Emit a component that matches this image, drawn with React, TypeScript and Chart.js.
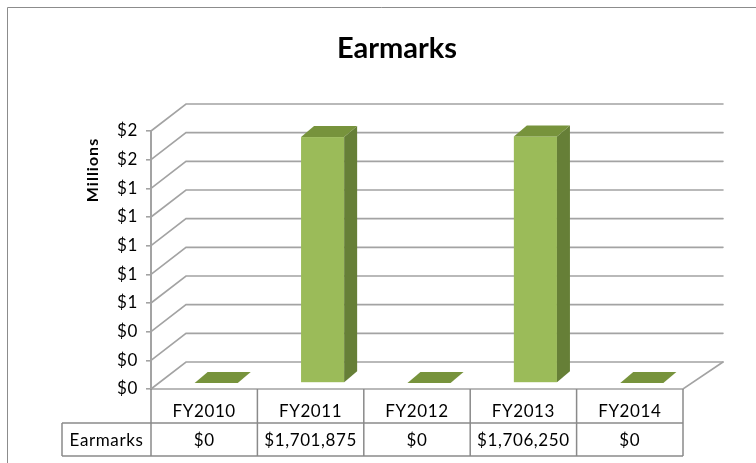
import React, { useEffect, useRef } from 'react';
import { Chart, registerables } from 'chart.js';

Chart.register(...registerables);

const title = 'Earmarks';
const axisTitle = 'Millions';
const seriesName = 'Earmarks';
const categories = ['FY2010', 'FY2011', 'FY2012', 'FY2013', 'FY2014'];
const earmarks = [0, 1701875, 0, 1706250, 0];
const yMin = 0;
const yMax = 1.8;
const yStep = 0.2;

const FONT = 'Lato, "Open Sans", sans-serif';
const FRONT = '#9BBB59';
const SIDE = '#667F37';
const TOP = '#77933C';
const GRID = '#a3a3a3';
const TABLE_LINE = '#8a8a8a';

// 3D geometry (styling offsets)
const WALL_DX = 35;
const WALL_DY = -27;
const BAR_DX = 12;
const BAR_DY_TOP = -8;
const BAR_DY_BASE = -6;
const DEPTH_DX = 13;
const DEPTH_DY = -11;

const fmtMoney = (v: number) => '$' + Math.round(v).toLocaleString('en-US');

const excel3d = {
  id: 'excel3d',
  beforeDraw(chart: any) {
    const ctx = chart.ctx;
    ctx.save();
    ctx.fillStyle = '#ffffff';
    ctx.fillRect(0, 0, chart.width, chart.height);
    ctx.strokeStyle = '#8c8c8c';
    ctx.lineWidth = 1;
    ctx.beginPath();
    ctx.moveTo(7.5, chart.height);
    ctx.lineTo(7.5, 7.5);
    ctx.lineTo(chart.width, 7.5);
    ctx.stroke();
    ctx.restore();
    (ctx as any).letterSpacing = '0.6px';
  },
  beforeDatasetsDraw(chart: any) {
    const ctx = chart.ctx;
    const ys = chart.scales.y;
    const { left, right, bottom } = chart.chartArea;
    ctx.save();
    (ctx as any).letterSpacing = '0px';
    ctx.strokeStyle = GRID;
    ctx.lineWidth = 1.6;
    ctx.lineCap = 'round';
    ys.ticks.forEach((t: any) => {
      const y = ys.getPixelForValue(t.value);
      ctx.beginPath();
      ctx.moveTo(left, y);
      ctx.lineTo(left + WALL_DX, y + WALL_DY);
      ctx.lineTo(right + WALL_DX + 5, y + WALL_DY);
      ctx.stroke();
    });
    // floor right edge and front edge
    ctx.beginPath();
    ctx.moveTo(right + WALL_DX + 5, bottom + WALL_DY);
    ctx.lineTo(right, bottom);
    ctx.lineTo(left, bottom);
    ctx.stroke();
    ctx.restore();
  },
  afterDatasetsDraw(chart: any) {
    const ctx = chart.ctx;
    const meta = chart.getDatasetMeta(0);
    ctx.save();
    meta.data.forEach((el: any, i: number) => {
      const p = el.getProps(['x', 'y', 'base', 'width'], true);
      const x0 = p.x - p.width / 2 + BAR_DX;
      const x1 = p.x + p.width / 2 + BAR_DX;
      const isZero = chart.data.datasets[0].data[i] === 0;
      const yb = p.base + BAR_DY_BASE;
      const yt = isZero ? yb : p.y + BAR_DY_TOP;
      if (!isZero) {
        ctx.fillStyle = FRONT;
        ctx.fillRect(x0, yt, x1 - x0, yb - yt);
        ctx.fillStyle = SIDE;
        ctx.beginPath();
        ctx.moveTo(x1, yt);
        ctx.lineTo(x1 + DEPTH_DX, yt + DEPTH_DY);
        ctx.lineTo(x1 + DEPTH_DX, yb + DEPTH_DY);
        ctx.lineTo(x1, yb);
        ctx.closePath();
        ctx.fill();
      }
      ctx.fillStyle = TOP;
      ctx.beginPath();
      ctx.moveTo(x0, yt);
      ctx.lineTo(x0 + DEPTH_DX, yt + DEPTH_DY);
      ctx.lineTo(x1 + DEPTH_DX, yt + DEPTH_DY);
      ctx.lineTo(x1, yt);
      ctx.closePath();
      ctx.fill();
    });
    ctx.restore();
  },
  afterDraw(chart: any) {
    const ctx = chart.ctx;
    const xs = chart.scales.x;
    const { left, right, bottom } = chart.chartArea;
    ctx.save();
    // Title
    (ctx as any).letterSpacing = '0px';
    ctx.fillStyle = '#000';
    ctx.font = `bold 29px ${FONT}`;
    ctx.textAlign = 'center';
    ctx.textBaseline = 'alphabetic';
    ctx.fillText(title, 397, 58);

    // Axis title
    ctx.save();
    (ctx as any).letterSpacing = '1px';
    ctx.font = `bold 16px ${FONT}`;
    ctx.translate(93, 170);
    ctx.rotate(-Math.PI / 2);
    ctx.textBaseline = 'middle';
    ctx.fillText(axisTitle, 0, 0);
    ctx.restore();

    // Data table
    const row1Top = bottom;
    const row1Bot = bottom + 34;
    const row2Bot = row1Bot + 33;
    const labelLeft = 62;
    const step = (right - left) / categories.length;
    ctx.strokeStyle = TABLE_LINE;
    ctx.lineWidth = 1.5;
    ctx.beginPath();
    for (let i = 0; i <= categories.length; i++) {
      const bx = left + i * step;
      ctx.moveTo(bx, row1Top);
      ctx.lineTo(bx, row2Bot);
    }
    ctx.moveTo(labelLeft, row1Bot);
    ctx.lineTo(right, row1Bot);
    ctx.moveTo(labelLeft, row2Bot);
    ctx.lineTo(right, row2Bot);
    ctx.moveTo(labelLeft, row1Bot);
    ctx.lineTo(labelLeft, row2Bot);
    ctx.stroke();

    ctx.fillStyle = '#000';
    ctx.font = `17px ${FONT}`;
    (ctx as any).letterSpacing = '0.6px';
    ctx.textAlign = 'center';
    ctx.textBaseline = 'alphabetic';
    categories.forEach((c, i) => {
      const cx = xs.getPixelForValue(i);
      ctx.fillText(c, cx, row1Top + 28);
      ctx.fillText(fmtMoney(earmarks[i]), cx, row1Bot + 23);
    });
    ctx.fillText(seriesName, (labelLeft + left) / 2, row1Bot + 23);
    ctx.restore();
  },
};

export default function App() {
  const ref = useRef<HTMLCanvasElement | null>(null);
  useEffect(() => {
    if (!ref.current) return;
    const chart = new Chart(ref.current, {
      type: 'bar',
      data: {
        labels: categories,
        datasets: [
          {
            label: seriesName,
            data: earmarks.map((v) => v / 1e6),
            backgroundColor: 'rgba(0,0,0,0)',
            borderWidth: 0,
            barPercentage: 0.405,
            categoryPercentage: 1,
          },
        ],
      },
      options: {
        animation: false,
        responsive: false,
        devicePixelRatio: 1,
        layout: { padding: { left: 0, top: 131, right: 73, bottom: 74 } },
        plugins: {
          legend: { display: false },
          title: { display: false },
          tooltip: { enabled: false },
        },
        scales: {
          x: { display: false, grid: { offset: true } },
          y: {
            min: yMin,
            max: yMax,
            afterFit: (scale: any) => {
              scale.width = 151;
            },
            ticks: {
              stepSize: yStep,
              padding: 8,
              color: '#000',
              font: { family: FONT, size: 17 },
              callback: (v: any) => '$' + Math.round(Number(v)),
            },
            grid: {
              drawOnChartArea: false,
              drawTicks: true,
              tickLength: 5,
              color: GRID,
              lineWidth: 1.6,
            },
            border: { display: true, color: GRID, width: 2 },
          },
        },
      },
      plugins: [excel3d],
    });
    return () => chart.destroy();
  }, []);
  return (
    <div style={{ position: 'fixed', left: 0, top: 0, width: 756, height: 463, background: '#fff' }}>
      <canvas ref={ref} width={756} height={463} style={{ width: 756, height: 463, display: 'block' }} />
    </div>
  );
}
